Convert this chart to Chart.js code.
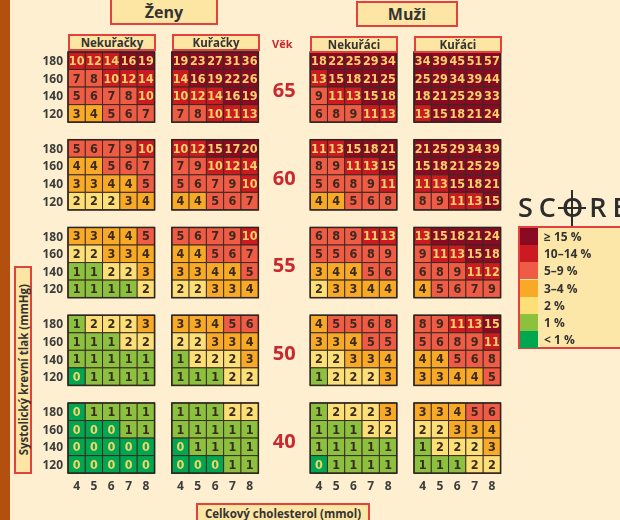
<!DOCTYPE html>
<html>
<head>
<meta charset="utf-8">
<script src="https://cdn.jsdelivr.net/npm/chart.js@4"></script>
<style>
    body { margin: 0; background: #fdefd0; }
    #plocha { position: relative; width: 620px; height: 520px; overflow: hidden; background: #fdefd0; font-family: 'Open Sans', sans-serif; }
    #pruh { position: absolute; left: 0; top: 0; width: 10px; height: 520px; background: #b3500f; }
    canvas { position: absolute; left: 0; top: 0; }
    .box { position: absolute; box-sizing: border-box; background: #fde5a4; border: 2px solid #e2413d; display: flex; align-items: center; justify-content: center; font-weight: 700; color: #333; white-space: nowrap; }
    #vek { position: absolute; left: 272px; top: 36px; font-size: 11px; font-weight: 700; color: #c8282e; }
    #ytitul { position: absolute; left: 14px; top: 266px; width: 18px; height: 208px; box-sizing: border-box; background: #fde5a4; border: 2px solid #e2413d; display: flex; align-items: center; justify-content: center; }
    #ytitul span { writing-mode: vertical-rl; transform: rotate(180deg); font-size: 11.5px; font-weight: 700; color: #333; white-space: nowrap; }
    #score { position: absolute; left: 518px; top: 188px; font-size: 27px; font-weight: 600; letter-spacing: 6px; color: #2c2c2c; font-family: 'Open Sans', sans-serif; white-space: nowrap; }
    #score .o { position: relative; }
    #score .o::before { content: ''; position: absolute; left: 9px; top: 2px; width: 2px; height: 36px; background: #2c2c2c; }
    #score .o::after { content: ''; position: absolute; left: -4px; top: 19px; width: 28px; height: 2px; background: #2c2c2c; }
    #legenda { position: absolute; left: 518px; top: 226px; width: 110px; height: 123px; box-sizing: border-box; background: #fde7a8; border: 2px solid #e2413d; }
    .pol { position: absolute; left: 0; width: 104px; height: 17px; }
    .pol i { position: absolute; left: 0; top: 0; width: 18px; height: 17px; }
    .pol b { position: absolute; left: 24px; top: 0px; font-size: 12px; font-weight: 700; color: #333; }
</style>
</head>
<body>
<div id="plocha">
    <div id="pruh"></div>
    <canvas id="chartScore" width="620" height="520"></canvas>
    <div class="box" style="left:110px;top:-2px;width:108px;height:27px;font-size:16px;">Ženy</div>
    <div class="box" style="left:356px;top:1px;width:102px;height:26px;font-size:16px;">Muži</div>
    <div class="box" style="left:68px;top:34px;width:88px;height:17px;font-size:11.5px;">Nekuřačky</div>
    <div class="box" style="left:172px;top:34px;width:88px;height:17px;font-size:11.5px;">Kuřačky</div>
    <div class="box" style="left:310px;top:36px;width:88px;height:17px;font-size:11.5px;">Nekuřáci</div>
    <div class="box" style="left:414px;top:36px;width:88px;height:17px;font-size:11.5px;">Kuřáci</div>
    <div id="vek">Věk</div>
    <div id="ytitul"><span>Systolický krevní tlak (mmHg)</span></div>
    <div class="box" style="left:196px;top:503px;width:174px;height:21px;font-size:11.5px;align-items:flex-start;padding-top:1px;">Celkový cholesterol (mmol)</div>
    <div id="score">SC<span class="o">O</span>RE</div>
    <div id="legenda"></div>
</div>
<script>
// hodnoty z tabulky SCORE (% riziko)
const vekoveSkupiny = [65, 60, 55, 50, 40];
const tlak = [180, 160, 140, 120];
const cholesterol = [4, 5, 6, 7, 8];

const zenyNekuracky = [
    [[10, 12, 14, 16, 19], [7, 8, 10, 12, 14], [5, 6, 7, 8, 10], [3, 4, 5, 6, 7]],
    [[5, 6, 7, 9, 10], [4, 4, 5, 6, 7], [3, 3, 4, 4, 5], [2, 2, 2, 3, 4]],
    [[3, 3, 4, 4, 5], [2, 2, 3, 3, 4], [1, 1, 2, 2, 3], [1, 1, 1, 1, 2]],
    [[1, 2, 2, 2, 3], [1, 1, 1, 2, 2], [1, 1, 1, 1, 1], [0, 1, 1, 1, 1]],
    [[0, 1, 1, 1, 1], [0, 0, 0, 1, 1], [0, 0, 0, 0, 0], [0, 0, 0, 0, 0]]
];
const zenyKuracky = [
    [[19, 23, 27, 31, 36], [14, 16, 19, 22, 26], [10, 12, 14, 16, 19], [7, 8, 10, 11, 13]],
    [[10, 12, 15, 17, 20], [7, 9, 10, 12, 14], [5, 6, 7, 9, 10], [4, 4, 5, 6, 7]],
    [[5, 6, 7, 9, 10], [4, 4, 5, 6, 7], [3, 3, 4, 4, 5], [2, 2, 3, 3, 4]],
    [[3, 3, 4, 5, 6], [2, 2, 3, 3, 4], [1, 2, 2, 2, 3], [1, 1, 1, 2, 2]],
    [[1, 1, 1, 2, 2], [1, 1, 1, 1, 1], [0, 1, 1, 1, 1], [0, 0, 0, 1, 1]]
];
const muziNekuraci = [
    [[18, 22, 25, 29, 34], [13, 15, 18, 21, 25], [9, 11, 13, 15, 18], [6, 8, 9, 11, 13]],
    [[11, 13, 15, 18, 21], [8, 9, 11, 13, 15], [5, 6, 8, 9, 11], [4, 4, 5, 6, 8]],
    [[6, 8, 9, 11, 13], [5, 5, 6, 8, 9], [3, 4, 4, 5, 6], [2, 3, 3, 4, 4]],
    [[4, 5, 5, 6, 8], [3, 3, 4, 5, 5], [2, 2, 3, 3, 4], [1, 2, 2, 2, 3]],
    [[1, 2, 2, 2, 3], [1, 1, 1, 2, 2], [1, 1, 1, 1, 1], [0, 1, 1, 1, 1]]
];
const muziKuraci = [
    [[34, 39, 45, 51, 57], [25, 29, 34, 39, 44], [18, 21, 25, 29, 33], [13, 15, 18, 21, 24]],
    [[21, 25, 29, 34, 39], [15, 18, 21, 25, 29], [11, 13, 15, 18, 21], [8, 9, 11, 13, 15]],
    [[13, 15, 18, 21, 24], [9, 11, 13, 15, 18], [6, 8, 9, 11, 12], [4, 5, 6, 7, 9]],
    [[8, 9, 11, 13, 15], [5, 6, 8, 9, 11], [4, 4, 5, 6, 8], [3, 3, 4, 4, 5]],
    [[3, 3, 4, 5, 6], [2, 2, 3, 3, 4], [1, 2, 2, 2, 3], [1, 1, 1, 2, 2]]
];

const legendaTexty = ['≥ 15 %', '10–14 %', '5–9 %', '3–4 %', '2 %', '1 %', '< 1 %'];
const legendaBarvy = ['#8a0a24', '#cc1a22', '#f05b46', '#f8a926', '#fddf78', '#8cc13f', '#00a650'];

function barva(v) {
    if (v >= 15) return legendaBarvy[0];
    if (v >= 10) return legendaBarvy[1];
    if (v >= 5) return legendaBarvy[2];
    if (v >= 3) return legendaBarvy[3];
    if (v >= 2) return legendaBarvy[4];
    if (v >= 1) return legendaBarvy[5];
    return legendaBarvy[6];
}

// posun panelu ve sloupcich
const panely = [
    { hodnoty: zenyNekuracky, posun: 0 },
    { hodnoty: zenyKuracky, posun: 6 },
    { hodnoty: muziNekuraci, posun: 14 },
    { hodnoty: muziKuraci, posun: 20 }
];

function radekY(a, r) {
    return (tlak.length - 1 - r) + 5 * (vekoveSkupiny.length - 1 - a);
}

var datasets = [];
panely.forEach(panel => {
    var body = [];
    panel.hodnoty.forEach((skupina, a) => {
        skupina.forEach((radek, r) => {
            radek.forEach((v, j) => {
                body.push({ x: cholesterol[j] + panel.posun, y: radekY(a, r), v: v });
            });
        });
    });
    datasets.push({
        data: body,
        backgroundColor: c => barva(c.raw ? c.raw.v : 0),
        borderColor: '#3a2a20',
        borderWidth: 1,
        pointStyle: 'rect',
        pointRadius: 12.4,
        pointHoverRadius: 12.4
    });
});

const popisky = {
    id: 'popisky',
    afterDatasetsDraw(chart) {
        const ctx = chart.ctx;
        const sx = chart.scales.x;
        const sy = chart.scales.y;
        ctx.save();

        // cisla v bunkach
        ctx.textAlign = 'center';
        ctx.textBaseline = 'middle';
        ctx.font = "bold 12.5px 'Liberation Sans Narrow', 'DejaVu Sans Condensed', sans-serif";
        chart.data.datasets.forEach((ds, i) => {
            chart.getDatasetMeta(i).data.forEach((el, k) => {
                var v = ds.data[k].v;
                ctx.fillStyle = (v >= 10 || v < 1) ? '#f6d36a' : '#3a2a1e';
                ctx.fillText(String(v), el.x, el.y + 1);
            });
        });

        // ramecky skupin
        ctx.strokeStyle = '#2e2420';
        ctx.lineWidth = 1.5;
        panely.forEach(panel => {
            vekoveSkupiny.forEach((vek, a) => {
                var x0 = sx.getPixelForValue(cholesterol[0] + panel.posun - 0.5);
                var x1 = sx.getPixelForValue(cholesterol[cholesterol.length - 1] + panel.posun + 0.5);
                var y0 = sy.getPixelForValue(radekY(a, 0) + 0.5);
                var y1 = sy.getPixelForValue(radekY(a, tlak.length - 1) - 0.5);
                ctx.strokeRect(x0, y0, x1 - x0, y1 - y0);
            });
        });

        // tlak vlevo
        ctx.fillStyle = '#3c3c3c';
        ctx.textAlign = 'right';
        ctx.font = "bold 12px 'Open Sans', sans-serif";
        vekoveSkupiny.forEach((vek, a) => {
            tlak.forEach((t, r) => {
                ctx.fillText(String(t), sx.getPixelForValue(cholesterol[0] - 0.5) - 5, sy.getPixelForValue(radekY(a, r)) + 1);
            });
        });

        // vek uprostred
        ctx.fillStyle = '#c8282e';
        ctx.textAlign = 'center';
        ctx.font = "bold 20px 'Open Sans', sans-serif";
        vekoveSkupiny.forEach((vek, a) => {
            var yStred = (radekY(a, 0) + radekY(a, tlak.length - 1)) / 2;
            ctx.fillText(String(vek), sx.getPixelForValue(16), sy.getPixelForValue(yStred) + 4);
        });

        // cholesterol dole
        ctx.fillStyle = '#3c3c3c';
        ctx.font = "bold 12px 'Open Sans', sans-serif";
        panely.forEach(panel => {
            cholesterol.forEach(c => {
                ctx.fillText(String(c), sx.getPixelForValue(c + panel.posun), sy.getPixelForValue(-0.5) + 13);
            });
        });
        ctx.restore();
    }
};

const ctx = document.getElementById('chartScore');

new Chart(ctx, {
    type: 'scatter',
    data: { datasets: datasets },
    options: {
        responsive: false,
        animation: false,
        events: [],
        layout: { padding: 0, autoPadding: false },
        plugins: {
            legend: { display: false },
            tooltip: { enabled: false }
        },
        scales: {
            x: { type: 'linear', display: false, min: -0.4335, max: 35.405 },
            y: { type: 'linear', display: false, min: -3.168, max: 26.46 }
        }
    },
    plugins: [popisky]
});

// legenda vpravo
var leg = document.getElementById('legenda');
legendaTexty.forEach((t, i) => {
    var d = document.createElement('div');
    d.className = 'pol';
    d.style.top = (i * 17.2) + 'px';
    d.innerHTML = '<i style="background:' + legendaBarvy[i] + '"></i><b>' + t + '</b>';
    leg.appendChild(d);
});
</script>
</body>
</html>
